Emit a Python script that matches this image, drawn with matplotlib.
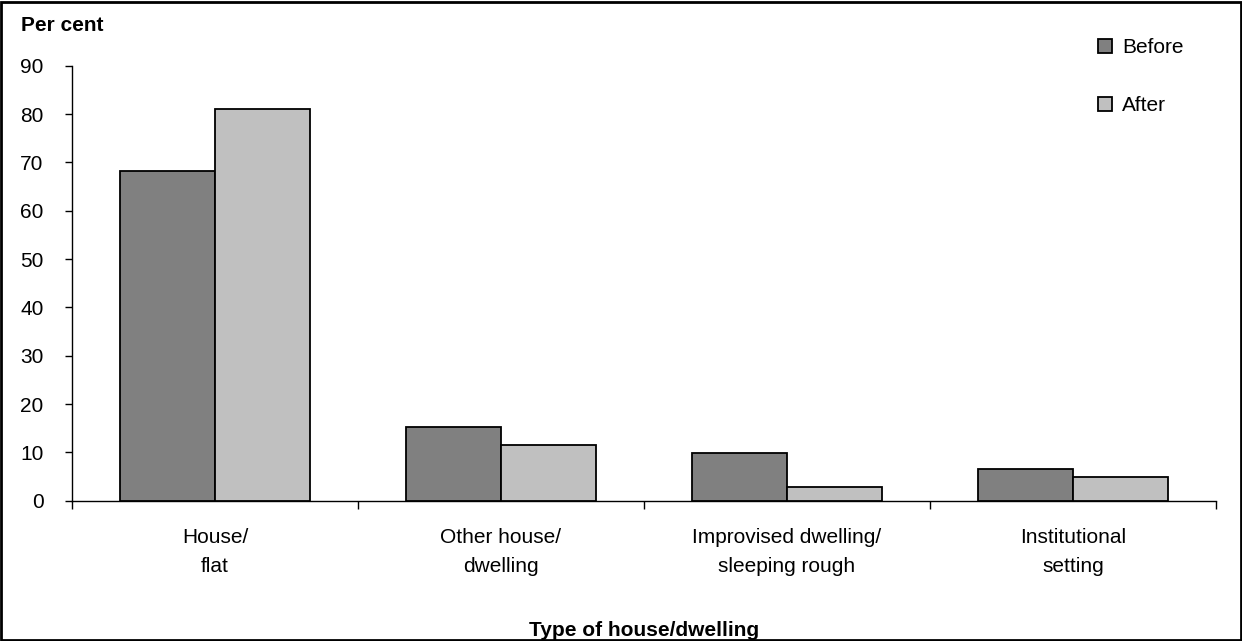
import matplotlib
matplotlib.use("Agg")
import matplotlib.pyplot as plt
from matplotlib.patches import Rectangle
from matplotlib.ticker import FixedLocator, NullFormatter
import numpy as np

plt.rcParams['font.family'] = ['Liberation Sans', 'DejaVu Sans']

# Data
categories = ["House/\nflat", "Other house/\ndwelling",
              "Improvised dwelling/\nsleeping rough", "Institutional\nsetting"]
before = [68.2, 15.2, 9.9, 6.6]
after = [81.0, 11.5, 2.8, 4.8]
series_names = ["Before", "After"]
yticks = [0, 10, 20, 30, 40, 50, 60, 70, 80, 90]

W, H = 1242, 641
fig = plt.figure(figsize=(W / 100, H / 100), dpi=100)
ax = fig.add_axes([72 / W, 1 - 500.7 / H, (1216 - 72) / W, (500.7 - 65.7) / H])

x = np.arange(len(categories))
bw = 1 / 3
b1 = ax.bar(x - bw / 2, before, width=bw, color="#808080", edgecolor="black",
            linewidth=1.3, label=series_names[0], zorder=3)
b2 = ax.bar(x + bw / 2, after, width=bw, color="#c0c0c0", edgecolor="black",
            linewidth=1.3, label=series_names[1], zorder=3)

ax.set_xlim(-0.5, len(categories) - 0.5)
ax.set_ylim(0, 90)
ax.set_yticks(yticks)
ax.tick_params(axis="y", direction="out", length=5, width=1, pad=15.5, labelsize=15)

# category labels centred, tick marks on category boundaries
ax.set_xticks(x)
ax.set_xticklabels(categories, fontsize=15, linespacing=1.62)
ax.tick_params(axis="x", which="major", length=0, pad=20)
ax.xaxis.set_minor_locator(FixedLocator(np.arange(-0.5, len(categories), 1.0)))
ax.xaxis.set_minor_formatter(NullFormatter())
ax.tick_params(axis="x", which="minor", direction="out", length=6, width=1)

for s in ("top", "right"):
    ax.spines[s].set_visible(False)
for s in ("left", "bottom"):
    ax.spines[s].set_linewidth(1)

fig.text(21 / W, 1 - 31 / H, "Per cent", fontsize=15, fontweight="bold",
         ha="left", va="baseline")
fig.text(644 / W, 1 - 636 / H, "Type of house/dwelling", fontsize=15,
         fontweight="bold", ha="center", va="baseline")

leg = ax.legend(handles=[b1, b2], loc="upper left",
                bbox_to_anchor=(1098 / W, 1 - 38 / H),
                bbox_transform=fig.transFigure, frameon=False, fontsize=15,
                handlelength=0.65, handleheight=0.65, handletextpad=0.5,
                labelspacing=1.87, borderpad=0, borderaxespad=0)

# outer frame
fig.patches.append(Rectangle((1 / W, 1 / H), 1 - 2.5 / W, 1 - 2.5 / H,
                             transform=fig.transFigure, fill=False,
                             edgecolor="black", linewidth=2))

fig.savefig("out.png", dpi=100)
